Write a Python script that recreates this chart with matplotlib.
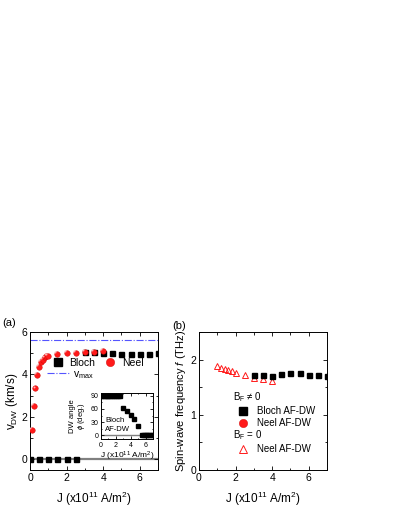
import matplotlib
matplotlib.use("Agg")
import matplotlib.pyplot as plt
import matplotlib.transforms as mtransforms
from matplotlib.lines import Line2D
from matplotlib.ticker import MultipleLocator

plt.rcParams['font.family'] = ['Liberation Sans', 'DejaVu Sans']
plt.rcParams['mathtext.fontset'] = 'custom'
plt.rcParams['mathtext.rm'] = 'Liberation Sans'
plt.rcParams['mathtext.it'] = 'Liberation Sans:italic'
plt.rcParams['mathtext.bf'] = 'Liberation Sans:bold'

# ---------------- data ----------------
# panel (a): DW velocity
neel_J = [0.1, 0.2, 0.3, 0.4, 0.5, 0.6, 0.7, 0.8, 0.9, 1.0, 1.5, 2.0, 2.5, 3.0, 3.5, 4.0]
neel_v = [1.38, 2.52, 3.34, 3.96, 4.36, 4.58, 4.70, 4.80, 4.85, 4.88, 4.96, 5.00, 5.03, 5.05, 5.08, 5.12]
bloch_J = [0.0, 0.5, 1.0, 1.5, 2.0, 2.5, 3.0, 3.5, 4.0, 4.5, 5.0, 5.5, 6.0, 6.5, 7.0]
bloch_v = [0.0, 0.0, 0.0, 0.0, 0.0, 0.0, 5.05, 5.05, 5.02, 5.00, 4.98, 4.97, 4.98, 4.98, 5.00]
v_max = 5.6

# inset: DW angle
ang_J = [0.0, 0.25, 0.5, 0.75, 1.0, 1.25, 1.5, 1.75, 2.0, 2.25, 2.5, 3.0, 3.5, 4.0, 4.5, 5.0,
         5.5, 5.75, 6.0, 6.25, 6.5, 6.75, 7.0]
ang_phi = [90, 90, 90, 90, 90, 90, 90, 90, 90, 90, 90, 62, 55, 47, 37, 22,
           0, 0, 0, 0, 0, 0, 0]

# panel (b): spin-wave frequency
bb_J = [3.0, 3.5, 4.0, 4.5, 5.0, 5.5, 6.0, 6.5, 7.0]
bb_f = [1.72, 1.72, 1.71, 1.74, 1.76, 1.765, 1.72, 1.72, 1.71]
n0_J = [1.0, 1.2, 1.4, 1.6, 1.8, 2.0, 2.5, 3.0, 3.5, 4.0]
n0_f = [1.88, 1.85, 1.83, 1.81, 1.79, 1.76, 1.73, 1.67, 1.64, 1.62]

xticks = [0, 2, 4, 6]
ya_ticks = [0, 2, 4, 6]
yb_ticks = [0, 1, 2]
inset_yticks = [0, 30, 60, 90]

# ---------------- figure ----------------
W, H = 400, 517
fig = plt.figure(figsize=(W / 100, H / 100), dpi=100)

def px_axes(l, t, r, b):
    return fig.add_axes([l / W, (H - b) / H, (r - l) / W, (b - t) / H])

axa = px_axes(30, 332, 158, 470)
axb = px_axes(199, 332, 327, 470)
axi = px_axes(101, 393, 153, 439)

RED = '#ff1a1a'

def style(ax, fs):
    ax.tick_params(which='both', direction='in', top=True, right=True, labelsize=fs,
                   width=0.6, pad=2)
    ax.tick_params(which='major', length=3)
    ax.tick_params(which='minor', length=1.8)
    for s in ax.spines.values():
        s.set_linewidth(0.7)

def sphere(ax, x, y, ms):
    ax.plot(x, y, 'o', ms=ms, color=RED, mec='#cc0000', mew=0.3, zorder=4)
    off = mtransforms.offset_copy(ax.transData, fig=fig, x=-0.35 * ms, y=0.35 * ms, units='points')
    ax.plot(x, y, 'o', ms=ms * 0.35, color='#ffb0b0', mec='none', transform=off, zorder=5)

# ---- panel (a)
style(axa, 7.5)
axa.set_xlim(0, 7)
axa.set_ylim(-0.5, 6)
axa.set_xticks(xticks)
axa.set_yticks(ya_ticks)
axa.xaxis.set_minor_locator(MultipleLocator(1))
axa.yaxis.set_minor_locator(MultipleLocator(1))
axa.axhline(0, color='#808080', lw=1.6, zorder=1)
axa.axhline(v_max, color='#5555ff', lw=0.8, ls='-.', zorder=1)
axa.plot(bloch_J, bloch_v, 's', ms=3.6, color='black', zorder=3)
sphere(axa, neel_J, neel_v, 4.0)
axa.set_xlabel('J (x10$^{11}$ A/m$^2$)', fontsize=8.5, labelpad=5)
axa.set_ylabel('v$_\\mathrm{DW}$ (km/s)', fontsize=8.5, labelpad=1)

h_bloch = Line2D([], [], ls='none', marker='s', ms=5.5, color='black')
h_neel = Line2D([], [], ls='none', marker='o', ms=6, color=RED, mec='#cc0000', mew=0.3)
leg1 = axa.legend([h_bloch, h_neel], ['Bloch', 'Neel'], ncol=2, frameon=False,
                  loc='center left', bbox_to_anchor=(0.177, 0.775), fontsize=7.5,
                  handlelength=1.0, handletextpad=0.6, columnspacing=0.95, borderpad=0,
                  borderaxespad=0)
axa.add_artist(leg1)
h_vmax = Line2D([], [], color='#5555ff', lw=0.8, ls='-.')
axa.legend([h_vmax], ['v$_\\mathrm{max}$'], frameon=False, loc='center left',
           bbox_to_anchor=(0.135, 0.69), fontsize=7.5, handlelength=2.2,
           handletextpad=0.3, borderpad=0, borderaxespad=0)
fig.text(2 / W, 1 - 323 / H, '(a)', fontsize=8, va='center', ha='left')

# ---- inset
style(axi, 5)
axi.tick_params(which='major', length=2)
axi.tick_params(which='minor', length=1)
axi.set_xlim(0, 7)
axi.set_ylim(-8, 96)
axi.set_xticks(xticks)
axi.set_yticks(inset_yticks)
axi.xaxis.set_minor_locator(MultipleLocator(1))
axi.yaxis.set_minor_locator(MultipleLocator(15))
axi.axhline(0, color='#808080', lw=1.0, zorder=1)
axi.plot(ang_J, ang_phi, 's', ms=2.6, color='black', zorder=3)
axi.set_xlabel('J (x10$^{11}$ A/m$^2$)', fontsize=6, labelpad=0.5)
axi.set_ylabel('DW angle\n$\\phi$ (deg.)', fontsize=5.5, linespacing=1.05)
axi.yaxis.set_label_coords(-0.26, 0.5)
axi.text(0.08, 0.3, 'Bloch\nAF-DW', transform=axi.transAxes, fontsize=5.5,
         ha='left', va='center', linespacing=1.4)

# ---- panel (b)
style(axb, 7.5)
axb.set_xlim(0, 7)
axb.set_ylim(0, 2.5)
axb.set_xticks(xticks)
axb.set_yticks(yb_ticks)
axb.xaxis.set_minor_locator(MultipleLocator(1))
axb.yaxis.set_minor_locator(MultipleLocator(0.5))
axb.plot(n0_J, n0_f, '^', ms=4.2, mfc='none', mec=RED, mew=0.7, zorder=3)
axb.plot(bb_J, bb_f, 's', ms=3.6, color='black', zorder=4)
axb.set_xlabel('J (x10$^{11}$ A/m$^2$)', fontsize=8.5, labelpad=5)
axb.set_ylabel('Spin-wave frequency $f$ (THz)', fontsize=8, labelpad=2)

h_tri = Line2D([], [], ls='none', marker='^', ms=6, mfc='none', mec=RED, mew=0.7)
legb1 = axb.legend([h_bloch, h_neel], ['Bloch AF-DW', 'Neel AF-DW'],
                   title='B$_\\mathrm{F}$ \u2260 0', title_fontsize=7, alignment='left',
                   frameon=False, loc='upper left', bbox_to_anchor=(0.266, 0.575),
                   fontsize=7, handlelength=2.0, handletextpad=0.5, borderpad=0,
                   borderaxespad=0, labelspacing=0.2)
axb.add_artist(legb1)
axb.legend([h_tri], ['Neel AF-DW'], title='B$_\\mathrm{F}$ = 0', title_fontsize=7,
           alignment='left', frameon=False, loc='upper left', bbox_to_anchor=(0.266, 0.30),
           fontsize=7, handlelength=2.0, handletextpad=0.5, borderpad=0,
           borderaxespad=0, labelspacing=0.2)
fig.text(172 / W, 1 - 326 / H, '(b)', fontsize=8, va='center', ha='left')

fig.savefig('out.png', dpi=100)
